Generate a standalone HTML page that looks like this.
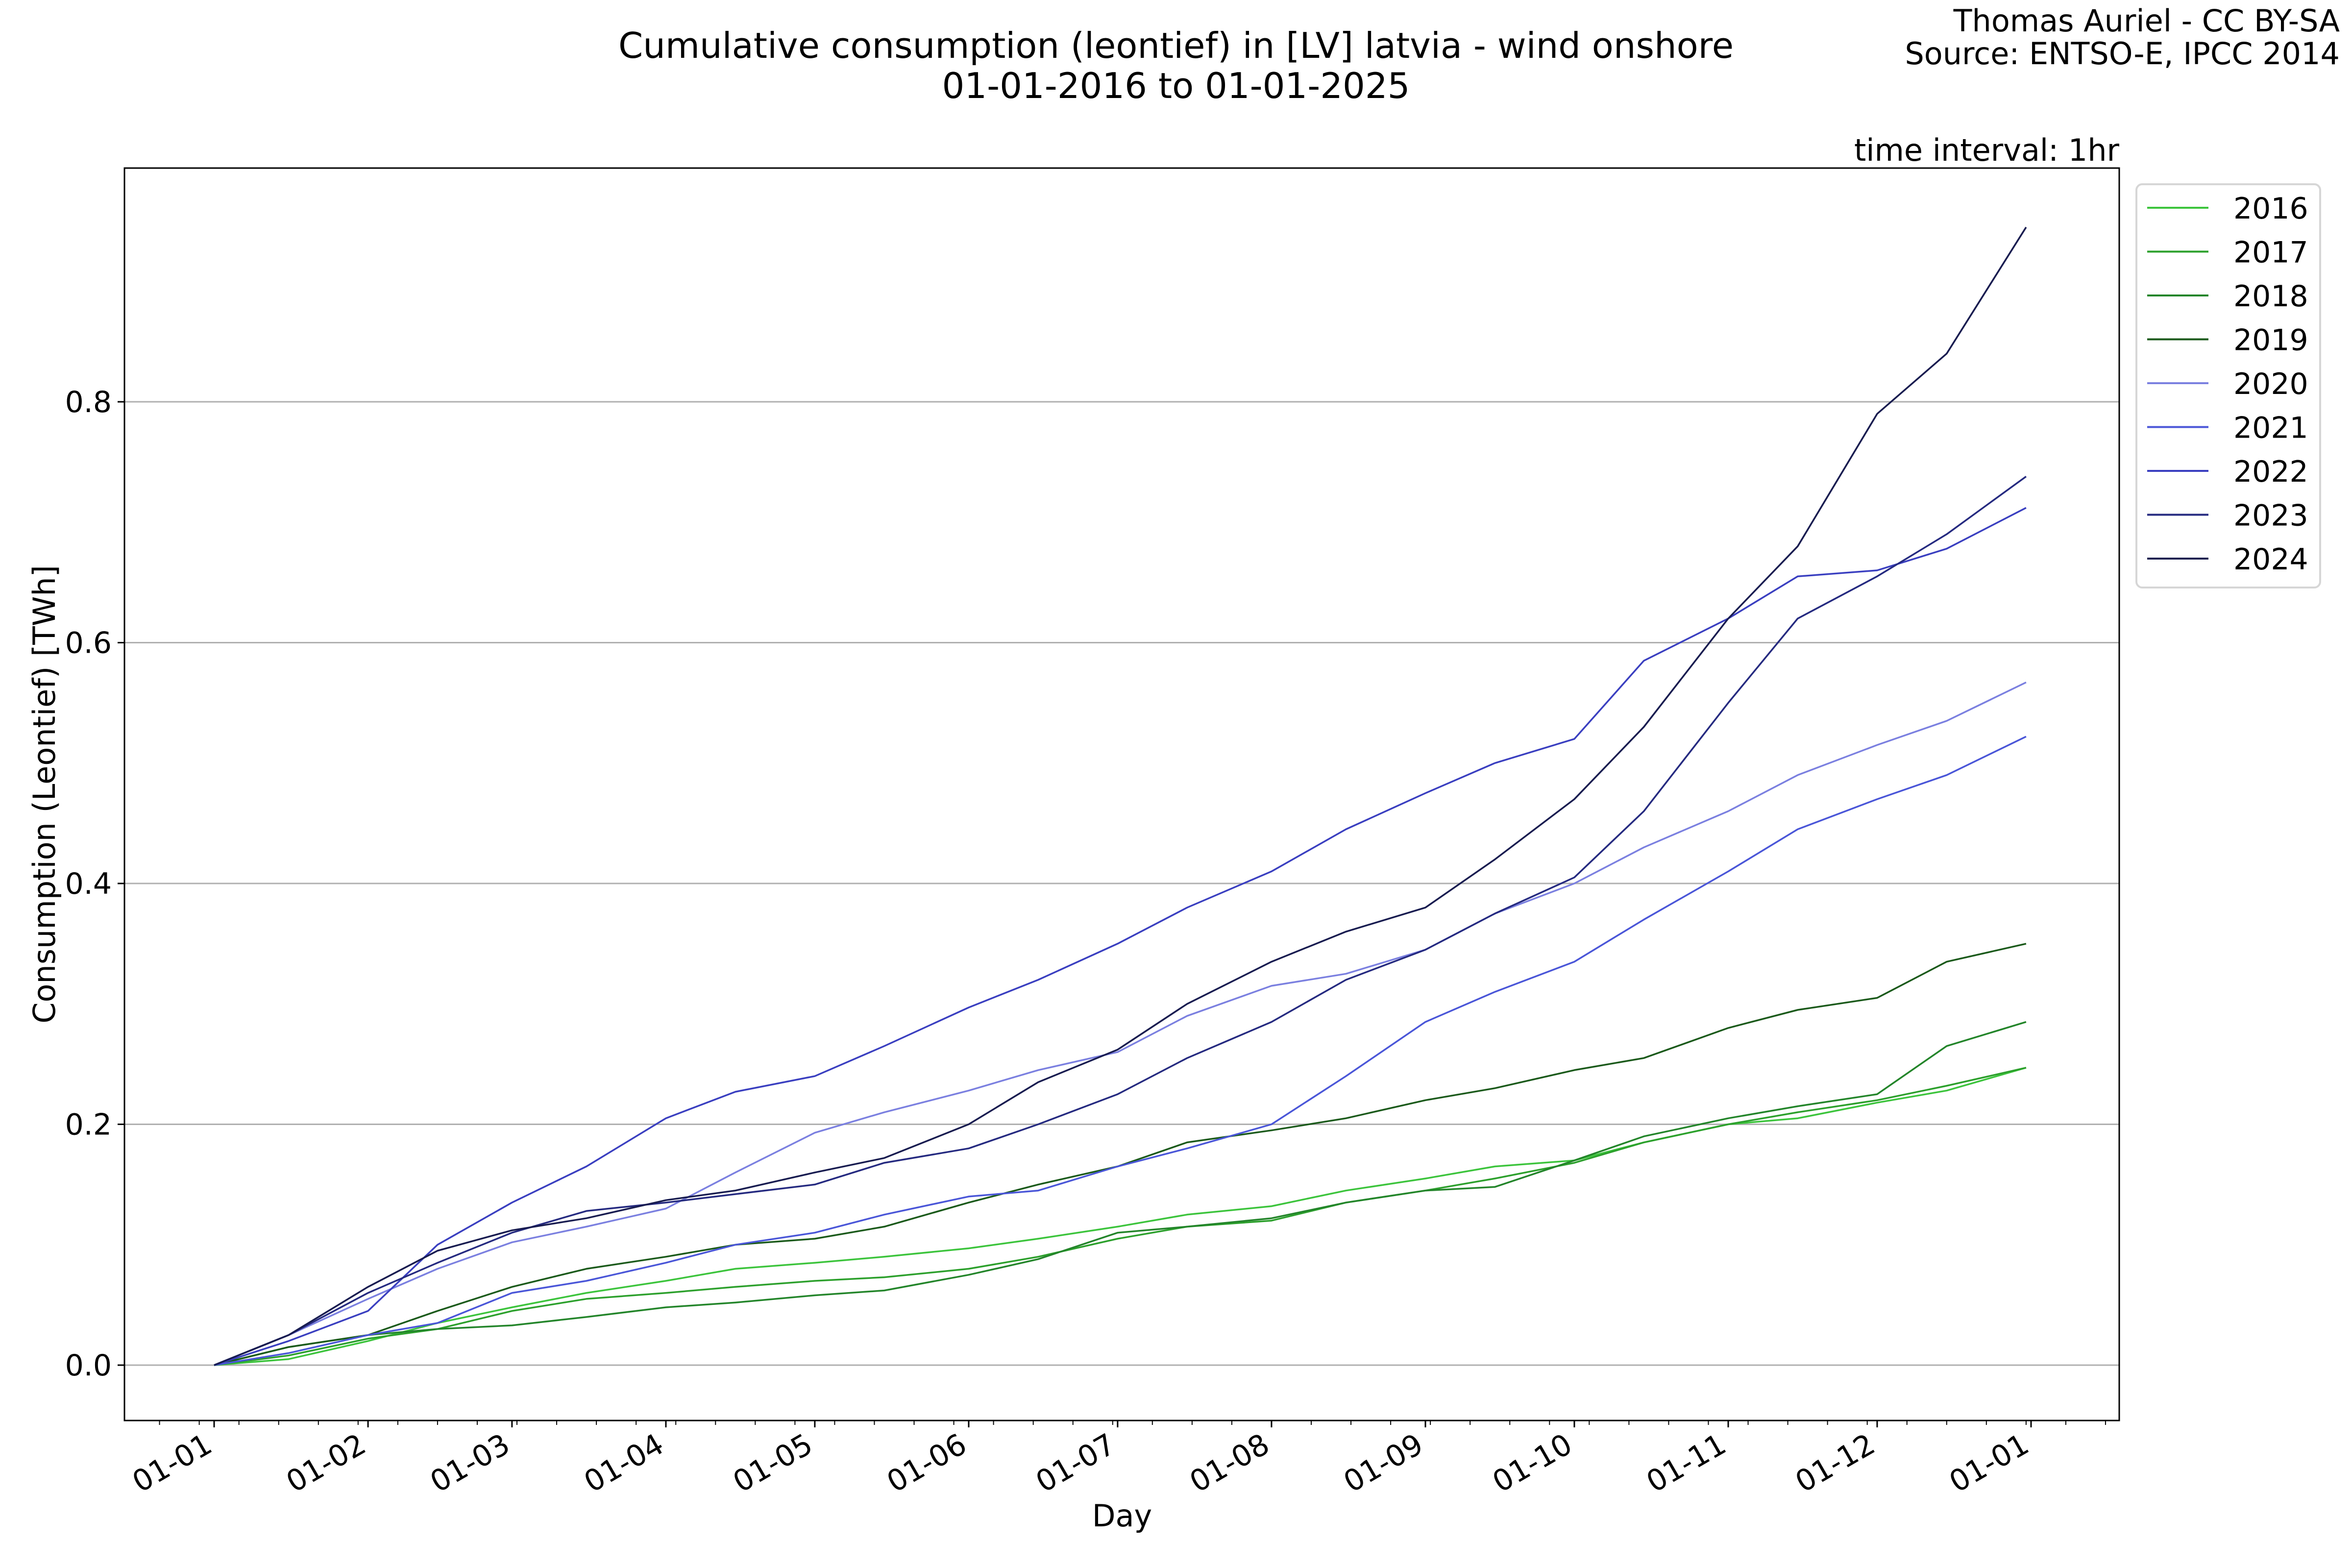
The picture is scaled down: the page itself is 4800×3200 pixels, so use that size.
<!DOCTYPE html>
<html><head><meta charset="utf-8"><style>
body{margin:0;background:#fff}
svg{display:block;font-family:"DejaVu Sans","Liberation Sans",sans-serif}
</style></head><body>
<svg id="chart" width="4800" height="3200" viewBox="0 0 4800 3200" xmlns="http://www.w3.org/2000/svg">
<rect width="4800" height="3200" fill="#fff"/>
<text x="2400" y="118" font-size="72" text-anchor="middle">Cumulative consumption (leontief) in [LV] latvia - wind onshore</text>
<text x="2400" y="200" font-size="72" text-anchor="middle">01-01-2016 to 01-01-2025</text>
<text x="4775" y="64" font-size="62" text-anchor="end">Thomas Auriel - CC BY-SA</text>
<text x="4775" y="131" font-size="62" text-anchor="end">Source: ENTSO-E, IPCC 2014</text>
<text x="4325" y="328" font-size="62" text-anchor="end">time interval: 1hr</text>
<g id="grid"></g>
<g id="series"></g>
<rect x="254" y="343" width="4071" height="2556" fill="none" stroke="#000" stroke-width="3"/>
<g id="axes"></g>
<text x="2290" y="3115" font-size="62" text-anchor="middle">Day</text>
<text x="112" y="1621" font-size="62" text-anchor="middle" transform="rotate(-90 112 1621)">Consumption (Leontief) [TWh]</text>
<g id="legend"></g>
</svg>
<script>
const days = [0,15,31,45,60,75,91,105,121,135,152,166,182,196,213,228,244,258,274,288,305,319,335,349,365];
const years = ['2016','2017','2018','2019','2020','2021','2022','2023','2024'];
const colors = ['#3cc43c','#2ca02c','#23852a','#1b5a1b','#7b80e0','#4a56d8','#3a3fc0','#252a80','#181c50'];
const v2016 = [0,0.005,0.02,0.035,0.048,0.06,0.07,0.08,0.085,0.09,0.097,0.105,0.115,0.125,0.132,0.145,0.155,0.165,0.17,0.185,0.2,0.205,0.218,0.228,0.247];
const v2017 = [0,0.008,0.022,0.03,0.045,0.055,0.06,0.065,0.07,0.073,0.08,0.09,0.105,0.115,0.12,0.135,0.145,0.155,0.168,0.185,0.2,0.21,0.22,0.232,0.247];
const v2018 = [0,0.015,0.025,0.03,0.033,0.04,0.048,0.052,0.058,0.062,0.075,0.088,0.11,0.115,0.122,0.135,0.145,0.148,0.17,0.19,0.205,0.215,0.225,0.265,0.285];
const v2019 = [0,0.015,0.025,0.045,0.065,0.08,0.09,0.1,0.105,0.115,0.135,0.15,0.165,0.185,0.195,0.205,0.22,0.23,0.245,0.255,0.28,0.295,0.305,0.335,0.35];
const v2020 = [0,0.025,0.055,0.08,0.102,0.115,0.13,0.16,0.193,0.21,0.228,0.245,0.26,0.29,0.315,0.325,0.345,0.375,0.4,0.43,0.46,0.49,0.515,0.535,0.567];
const v2021 = [0,0.01,0.025,0.035,0.06,0.07,0.085,0.1,0.11,0.125,0.14,0.145,0.165,0.18,0.2,0.24,0.285,0.31,0.335,0.37,0.41,0.445,0.47,0.49,0.522];
const v2022 = [0,0.02,0.045,0.1,0.135,0.165,0.205,0.227,0.24,0.265,0.297,0.32,0.35,0.38,0.41,0.445,0.475,0.5,0.52,0.585,0.62,0.655,0.66,0.678,0.712];
const v2023 = [0,0.025,0.06,0.085,0.11,0.128,0.135,0.142,0.15,0.168,0.18,0.2,0.225,0.255,0.285,0.32,0.345,0.375,0.405,0.46,0.55,0.62,0.655,0.69,0.738];
const v2024 = [0,0.025,0.065,0.095,0.112,0.122,0.137,0.145,0.16,0.172,0.2,0.235,0.262,0.3,0.335,0.36,0.38,0.42,0.47,0.53,0.62,0.68,0.79,0.84,0.945];
const yTicks = [0,0.2,0.4,0.6,0.8];
const yTickLabels = ['0.0','0.2','0.4','0.6','0.8'];
const monthDays = [0,31,60,91,121,152,182,213,244,274,305,335,366];
const monthLabels = ['01-01','01-02','01-03','01-04','01-05','01-06','01-07','01-08','01-09','01-10','01-11','01-12','01-01'];

const NS='http://www.w3.org/2000/svg';
const X0=437, X1=4145, Y0=2786, YK=2457.5;
const xs = d => X0 + (X1-X0)*d/366;
const ys = v => Y0 - v*YK;
function mk(t, attrs, parent){const e=document.createElementNS(NS,t);for(const k in attrs)e.setAttribute(k,attrs[k]);parent.appendChild(e);return e;}
const grid=document.getElementById('grid'), axes=document.getElementById('axes'), ser=document.getElementById('series'), leg=document.getElementById('legend');
yTicks.forEach((t,i)=>{
  const g=mk('line',{x1:254,x2:4325,y1:ys(t),y2:ys(t),stroke:'#b0b0b0','stroke-width':3},grid);
  
  
  const tk=mk('line',{x1:240,x2:254,y1:ys(t),y2:ys(t),stroke:'#000','stroke-width':3},axes);
  
  
  const tx=mk('text',{x:228,y:ys(t)+21,'font-size':60,'text-anchor':'end'},axes);
  tx.textContent=yTickLabels[i];
  
  
});
for(let d=-19; d<=385; d+=8){
  if(xs(d)<258||xs(d)>4322) continue;
  const m=mk('line',{x1:xs(d),x2:xs(d),y1:2899,y2:2908,stroke:'#000','stroke-width':2},axes);
  
  
}
monthDays.forEach((d,i)=>{
  const x=xs(d);
  const tk=mk('line',{x1:x,x2:x,y1:2899,y2:2913,stroke:'#000','stroke-width':3},axes);
  
  
  const tx=mk('text',{x:x,y:2960,'font-size':60,'text-anchor':'end',transform:`rotate(-30 ${x} 2960)`},axes);
  tx.textContent=monthLabels[i];
  
  
});
const allSeries=[v2016,v2017,v2018,v2019,v2020,v2021,v2022,v2023,v2024];
allSeries.forEach((vals,i)=>{
  const pts=vals.map((v,j)=>xs(days[j]).toFixed(1)+','+ys(v).toFixed(1)).join(' ');
  const p=mk('polyline',{points:pts,fill:'none',stroke:colors[i],'stroke-width':3.5,'stroke-linejoin':'round'},ser);
  
  
});
const box=mk('rect',{x:4360,y:376,width:375,height:823,rx:12,fill:'#fff',stroke:'#d6d6d6','stroke-width':4},leg);


years.forEach((yr,i)=>{
  const y=424+i*89.5;
  const l=mk('line',{x1:4382,x2:4507,y1:y,y2:y,stroke:colors[i],'stroke-width':4},leg);
  
  
  const t=mk('text',{x:4558,y:y+22,'font-size':60},leg);
  t.textContent=yr;
  
  
});
</script>
</body></html>
